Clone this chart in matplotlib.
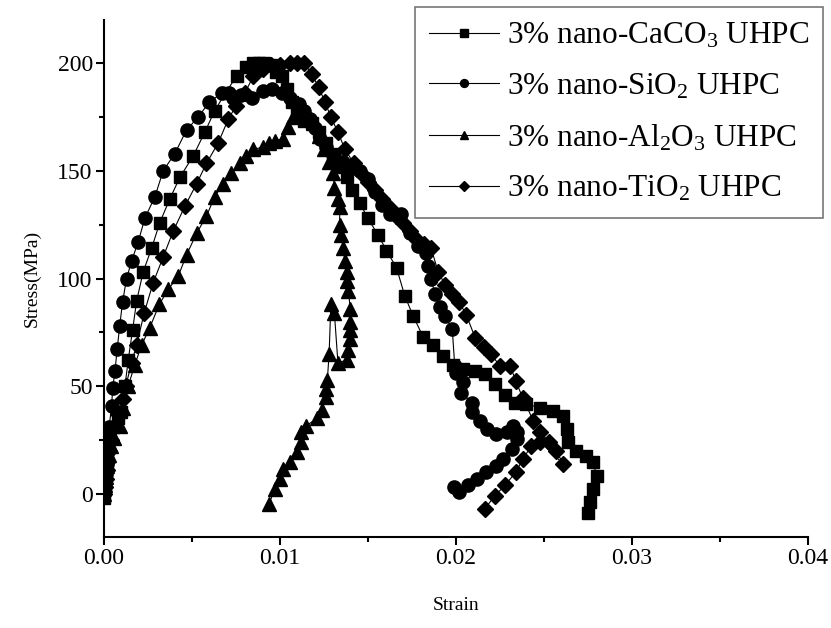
import matplotlib
matplotlib.use('Agg')
import matplotlib.pyplot as plt
from matplotlib.ticker import MultipleLocator

plt.rcParams['font.family'] = ['Liberation Serif', 'DejaVu Serif']
plt.rcParams['mathtext.fontset'] = 'custom'
plt.rcParams['mathtext.rm'] = 'Liberation Serif'
plt.rcParams['mathtext.it'] = 'Liberation Serif'

# 3% nano-CaCO3 (squares)
caco3_x = [0, 0.00005, 0.0001, 0.00015, 0.0002, 0.00025, 0.0003, 0.0005, 0.0008, 0.001,
           0.0012, 0.00138, 0.00163, 0.00186, 0.00223, 0.00271, 0.00318, 0.00375, 0.00432,
           0.00508, 0.00574, 0.0063, 0.0069, 0.00754, 0.0081, 0.0085, 0.0088, 0.0091, 0.0095,
           0.0098, 0.0101, 0.0104, 0.0107, 0.011, 0.0114, 0.0118, 0.0122, 0.0126, 0.013,
           0.0134, 0.0138, 0.0141, 0.01455, 0.015, 0.0156, 0.01606, 0.01663, 0.0171, 0.01758,
           0.01814, 0.0187, 0.01928, 0.01985, 0.0204, 0.0211, 0.02165, 0.0222, 0.0228,
           0.02335, 0.024, 0.02477, 0.0255, 0.0261, 0.0263, 0.0264, 0.02685, 0.0274, 0.0278,
           0.028, 0.0278, 0.0276, 0.0275]
caco3_y = [-2, 3, 8, 13, 18, 24, 29, 31, 35, 38,
           50, 62, 76, 89.5, 103, 114, 126, 137, 147,
           157, 168, 178, 186, 194, 198, 200, 200, 200, 199,
           196, 194, 188, 182, 177, 173, 172, 168, 163, 158,
           152, 147, 141, 135, 128, 120, 113, 105, 92, 82.5,
           73, 69, 64, 60, 58, 57, 55.5, 51, 46,
           42, 41.7, 40, 38.6, 36, 30, 24, 20, 17.7, 14.6,
           8.5, 2.3, -4, -9]

# 3% nano-SiO2 (circles)
sio2_x = [0, 0.00005, 0.0001, 0.00015, 0.0002, 0.00025, 0.0003, 0.00044, 0.0005, 0.00063,
          0.00076, 0.0009, 0.00106, 0.00129, 0.00157, 0.00195, 0.00233, 0.0029, 0.00337,
          0.00403, 0.0047, 0.00536, 0.006, 0.00669, 0.0071, 0.00735, 0.0078, 0.0084, 0.00905,
          0.00953, 0.0101, 0.01057, 0.0111, 0.0114, 0.0117, 0.012, 0.0123, 0.01265, 0.0131,
          0.0136, 0.0141, 0.01455, 0.015, 0.0154, 0.0158, 0.01625, 0.0166, 0.0169, 0.0174,
          0.01786, 0.01833, 0.0184, 0.0186, 0.0188, 0.0191, 0.0194, 0.0198, 0.01994, 0.02,
          0.0204, 0.0203, 0.0209, 0.0209, 0.02136, 0.0218, 0.0223, 0.0229, 0.02326, 0.0235,
          0.0235, 0.0232, 0.0227, 0.0223, 0.0217, 0.0212, 0.0207, 0.0202, 0.0199]
sio2_y = [0, 4, 9, 14, 19, 25, 31, 41, 49, 57,
          67.5, 78, 89, 100, 108, 117, 128, 138, 150,
          158, 169, 175, 182, 186, 186, 184, 185, 184, 187,
          188, 186, 184, 181, 178, 174, 170, 165, 161, 157,
          154, 152, 150, 146, 140, 134, 130, 130, 130, 121,
          115, 112, 106, 100, 93, 87, 82.5, 76.4, 59.4, 56,
          52, 47, 42.4, 38, 34, 30, 28, 28.6, 31.6, 28.6,
          25.5, 21, 16, 13, 10, 7, 4, 1, 3]

# 3% nano-Al2O3 (triangles)
al2o3_x = [0, 0.00005, 0.0001, 0.0002, 0.0003, 0.0004, 0.0006, 0.0009, 0.0011, 0.00138,
           0.00176, 0.00214, 0.0026, 0.00315, 0.00366, 0.00422, 0.0047, 0.00527, 0.00583,
           0.0063, 0.00678, 0.00725, 0.00773, 0.0081, 0.00848, 0.00905, 0.0094, 0.00972,
           0.0102, 0.01048, 0.01076, 0.0111, 0.0115, 0.0119, 0.0122, 0.0125, 0.0128, 0.01303,
           0.0131, 0.0133, 0.0134, 0.0134, 0.0135, 0.0136, 0.0137, 0.0138, 0.0138, 0.0139,
           0.014, 0.014, 0.014, 0.014, 0.0139, 0.0138, 0.0133, 0.0131, 0.0129, 0.0128, 0.0127,
           0.0126, 0.0126, 0.0124, 0.0121, 0.0115, 0.0112, 0.0112, 0.011, 0.0106, 0.0102,
           0.01, 0.0097, 0.0094]
al2o3_y = [0, 4, 8, 13, 18, 22, 26, 31.6, 40, 50,
           60, 69, 77, 88, 95, 101, 111, 121, 129,
           138, 144, 149, 153.5, 157, 160, 161, 163, 164,
           165, 170.5, 175, 177, 176, 172, 166, 160, 154, 149,
           142, 137, 133, 125, 120, 114, 108, 103, 99, 94,
           86, 80, 76, 72, 67, 62, 61, 84, 88, 65, 53,
           48.6, 45, 39, 35, 31.6, 28.6, 24, 19.4, 14.8, 11.6,
           7, 2.3, -4.6]

# 3% nano-TiO2 (diamonds)
tio2_x = [0, 0.00005, 0.0001, 0.00015, 0.0002, 0.0003, 0.0004, 0.0006, 0.0008, 0.0011,
          0.00125, 0.00157, 0.00186, 0.00229, 0.0028, 0.00337, 0.00394, 0.0046, 0.00527,
          0.00583, 0.0065, 0.00707, 0.0075, 0.008, 0.0085, 0.00905, 0.0095, 0.01, 0.01057,
          0.011, 0.0114, 0.0118, 0.0122, 0.01256, 0.0129, 0.0133, 0.0137, 0.0142, 0.0146,
          0.015, 0.0154, 0.0158, 0.0162, 0.0166, 0.017, 0.0174, 0.0178, 0.0182, 0.0186,
          0.019, 0.0194, 0.0198, 0.0202, 0.0206, 0.0211, 0.0216, 0.022, 0.0225, 0.0231,
          0.0234, 0.0238, 0.0244, 0.0248, 0.0253, 0.0257, 0.0261, 0.0248, 0.0243, 0.0238,
          0.0234, 0.0228, 0.0222, 0.02165]
tio2_y = [0, 3, 7, 11, 15, 20, 25, 31, 37, 44,
          50, 61, 69, 84, 98, 110, 122, 133.5, 144,
          153.5, 163, 174, 180, 186, 194, 197.5, 199, 199, 200,
          200, 200, 195, 189, 182, 175, 168, 160, 153.5, 149,
          145, 141, 137, 133, 129, 126, 122, 118, 116, 114,
          103, 97, 93, 89, 83, 72.5, 68, 65, 59.4, 59.4,
          52.5, 44.7, 34, 28.6, 24, 20, 14, 24, 22.4, 16,
          10, 4, -1, -7]

labels = ['3% nano-CaCO$_3$ UHPC', '3% nano-SiO$_2$ UHPC',
          '3% nano-Al$_2$O$_3$ UHPC', '3% nano-TiO$_2$ UHPC']

fig = plt.figure(figsize=(8.31, 6.28), dpi=100)
ax = fig.add_axes([0.125, 0.145, 0.847, 0.823])

ax.plot(caco3_x, caco3_y, 'k-', marker='s', ms=8.5, lw=0.8, label=labels[0])
ax.plot(sio2_x, sio2_y, 'k-', marker='o', ms=9.5, lw=0.8, label=labels[1])
ax.plot(al2o3_x, al2o3_y, 'k-', marker='^', ms=10, lw=0.8, label=labels[2])
ax.plot(tio2_x, tio2_y, 'k-', marker='D', ms=8, lw=0.8, label=labels[3])

ax.set_xlim(0, 0.04)
ax.set_ylim(-20, 220)
ax.xaxis.set_major_locator(MultipleLocator(0.01))
ax.xaxis.set_minor_locator(MultipleLocator(0.005))
ax.yaxis.set_major_locator(MultipleLocator(50))
ax.yaxis.set_minor_locator(MultipleLocator(25))
ax.xaxis.set_major_formatter(plt.FormatStrFormatter('%.2f'))
ax.spines['top'].set_visible(False)
ax.spines['right'].set_visible(False)
for s in ['left', 'bottom']:
    ax.spines[s].set_linewidth(1.5)
ax.tick_params(which='major', direction='out', length=6, width=1.5, labelsize=17, pad=2)
ax.tick_params(which='minor', direction='out', length=3.5, width=1.5)

ax.set_xlabel('Strain', fontsize=14, labelpad=20)
ax.set_ylabel('Stress(MPa)', fontsize=14, labelpad=12)

leg = ax.legend(loc='upper right', bbox_to_anchor=(823 / 831, 1 - 7 / 628),
                bbox_transform=fig.transFigure, fontsize=22.5, frameon=True,
                fancybox=False, handlelength=2.25, handletextpad=0.25,
                borderpad=0.45, labelspacing=0.68, markerscale=0.6,
                borderaxespad=0)
leg.get_frame().set_edgecolor('#555555')
leg.get_frame().set_linewidth(1.2)

fig.savefig('out.png', dpi=100)
